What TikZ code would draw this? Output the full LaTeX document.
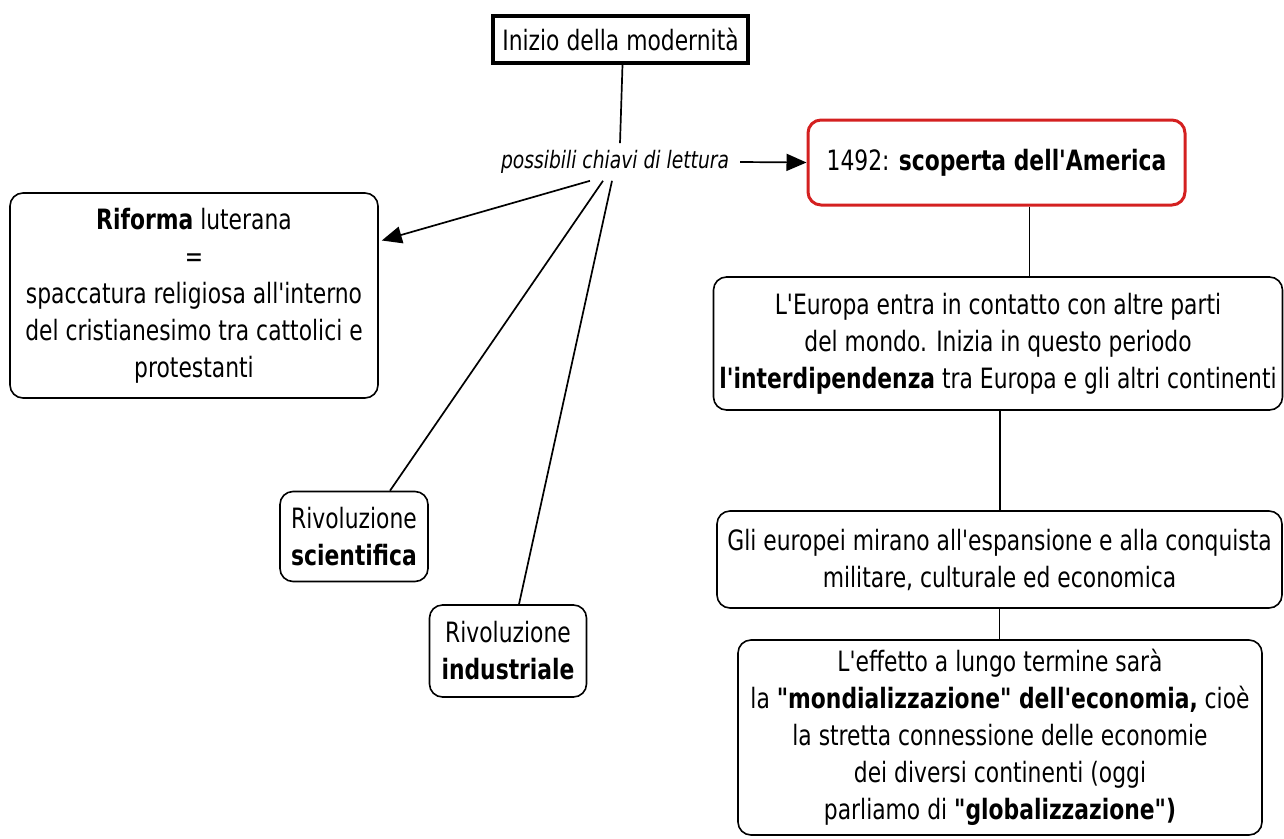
\documentclass[tikz,border=0pt]{standalone}
\usepackage{fontspec}
\setmainfont{DejaVu Sans}[FakeStretch=0.78,Ligatures=TeXOff]
\usetikzlibrary{arrows.meta}
\definecolor{redbox}{RGB}{212,32,32}
\tikzset{
  box/.style={draw=black, line width=1.6pt, rounded corners=13pt, align=center, inner sep=0pt,
              font=\fontsize{28}{37}\selectfont},
  conn/.style={draw=black, line width=1.7pt},
  tip/.style={-{Triangle[length=20pt,width=17pt]}},
}
\begin{document}
\begin{tikzpicture}[x=1pt,y=-1pt]
\useasboundingbox (0,0) rectangle (1284,838);
\node[box, rounded corners=0pt, line width=3.5pt, minimum width=255pt, minimum height=47pt] (top) at (620.5,39.5) {Inizio della modernità};
\node[font=\fontsize{24}{30}\selectfont\itshape, inner sep=7pt] (lab) at (615,162) {possibili chiavi di lettura};
\node[box, draw=redbox, line width=3pt, minimum width=377pt, minimum height=85pt] (red) at (996.5,162.5) {1492: \textbf{scoperta dell'America}};
\node[box, minimum width=569pt, minimum height=133pt] (eur) at (998,343.5) {L'Europa entra in contatto con altre parti\\del mondo. Inizia in questo periodo\\\textbf{l'interdipendenza} tra Europa e gli altri continenti};
\node[box, minimum width=565pt, minimum height=97pt] (gli) at (999.5,559.5) {Gli europei mirano all'espansione e alla conquista\\militare, culturale ed economica};
\node[box, minimum width=524pt, minimum height=195pt] (eff) at (1000,737.5) {L'effetto a lungo termine sarà\\la \textbf{"mondializzazione" dell'economia,} cioè\\la stretta connessione delle economie\\dei diversi continenti (oggi\\parliamo di \textbf{"globalizzazione")}};
\node[box, minimum width=368pt, minimum height=205pt] (rif) at (194,295.5) {\textbf{Riforma} luterana\\=\\spaccatura religiosa all'interno\\del cristianesimo tra cattolici e\\protestanti};
\node[box, minimum width=148pt, minimum height=90pt] (sci) at (354,536.5) {Rivoluzione\\\textbf{scientifica}};
\node[box, minimum width=157pt, minimum height=92pt] (ind) at (508,651) {Rivoluzione\\\textbf{industriale}};
% connectors
\draw[conn] ([xshift=2pt]top.south) -- ([xshift=5pt]lab.north);
\draw[conn, tip] ([xshift=4pt]lab.east) -- (red.west);
\draw[conn, tip] ([xshift=-25pt]lab.south) -- ([xshift=3pt,yshift=55pt]rif.east);
\draw[conn] ([xshift=-12pt]lab.south) -- ([xshift=36pt]sci.north);
\draw[conn] ([xshift=-3pt]lab.south) -- ([xshift=11pt]ind.north);
\draw[conn] ([xshift=33pt]red.south) -- ([xshift=33pt]red.south |- eur.north);
\draw[conn] ([xshift=2pt]eur.south) -- ([xshift=2pt]eur.south |- gli.north);
\draw[conn] (gli.south) -- (gli.south |- eff.north);
\end{tikzpicture}
\end{document}
